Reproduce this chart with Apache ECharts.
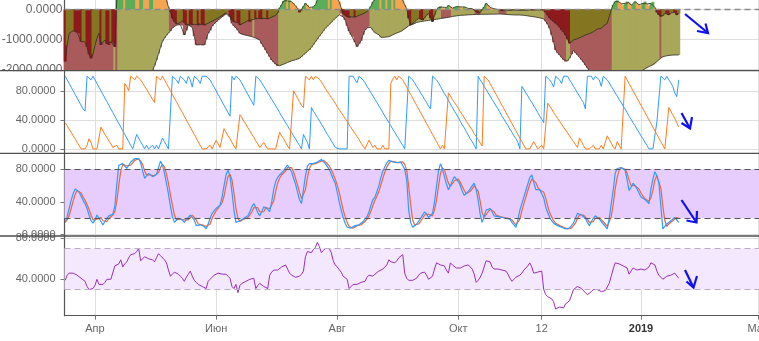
<!DOCTYPE html>
<html>
<head>
<meta charset="utf-8">
<script src="https://cdn.jsdelivr.net/npm/echarts@6/dist/echarts.min.js"></script>
<style>
  html, body { margin: 0; padding: 0; background: #fff; }
  #chart { width: 759px; height: 341px; }
</style>
</head>
<body>
<div id="chart"></div>
<script>
// Daily series start on this date, one value per day
const startDate = '2018-03-17';

// Month ticks on the shared date axis and their labels
const monthTicks = ['2018-04-01', '2018-06-01', '2018-08-01', '2018-10-01', '2018-11-12', '2019-01-01', '2019-03-01'];
const monthLabels = ['Апр', 'Июн', 'Авг', 'Окт', '12', '2019', 'Мар'];

// Panel 1: bull power (upper histogram) and bear power (lower histogram)
const bullPower = [
  -1745,-1200,-800,-740,-713,-740,-767,-800,-1080,-1080,
  -1080,-1250,-1500,-1633,-1490,-1200,-967,-800,-1190,-1100,
  -1023,-1150,-1190,-1080,-1120,-1250,350,480,600,700,
  680,720,780,850,900,960,920,880,930,980,
  950,900,860,900,940,880,800,720,640,560,
  480,300,80,-80,-300,-413,-480,-480,-450,-380,
  -450,-523,-480,-500,-520,-500,-480,-520,-460,-500,
  -540,-500,-470,-430,-400,-360,-330,-290,-250,-200,
  -160,-120,-100,-200,-350,-420,-380,-450,-520,-480,
  -450,-420,-380,-420,-350,-300,-320,-280,-300,-330,
  -300,-280,-320,-300,-260,-240,-200,-120,50,150,
  280,320,280,300,250,200,120,30,-100,-60,
  100,200,150,60,30,80,150,300,400,450,
  500,520,560,540,580,560,500,400,250,50,
  -150,-200,-250,-280,-250,-230,-260,-240,-200,-180,
  -150,-133,-80,-20,100,250,330,380,420,400,
  450,480,460,500,520,480,500,460,420,380,
  300,150,20,-300,-523,-480,-413,-350,-300,-330,
  -357,-300,-200,-133,-300,-413,-200,-30,60,100,
  70,30,60,130,100,40,60,90,100,80,
  60,80,50,30,40,20,-20,-80,-133,-100,
  -40,80,200,150,60,30,20,10,-10,-30,
  -50,-40,-30,-20,-40,-30,-20,-35,-30,-40,
  -30,-25,-35,-30,-20,-30,-25,-30,-20,-25,
  -20,-23,-100,-200,-300,-360,-413,-470,-523,-600,
  -690,-760,-857,-1000,-1135,-1080,-1023,-1000,-980,-967,
  -920,-880,-857,-830,-810,-800,-750,-690,-660,-640,
  -633,-560,-500,-467,-245,-20,150,260,300,250,
  180,130,200,260,220,130,180,260,200,150,
  130,200,260,180,120,200,250,60,-100,-190,
  -245,-220,-133,-150,-190,-120,-80,-100,-190,-133
];
const bearPower = [
  -2250,-2280,-2300,-2320,-2300,-2330,-2350,-2360,-2380,-2400,
  -2420,-2450,-2480,-2460,-2440,-2430,-2450,-2470,-2490,-2500,
  -2520,-2540,-2560,-2580,-2600,-2620,-2640,-2600,-2560,-2520,
  -2480,-2450,-2420,-2400,-2380,-2350,-2320,-2300,-2270,-2240,
  -2200,-2170,-2140,-2100,-2050,-1880,-1690,-1480,-1270,-1067,
  -960,-870,-790,-720,-620,-560,-530,-520,-510,-540,
  -857,-700,-523,-560,-600,-900,-1190,-1190,-1180,-1190,
  -1190,-1000,-800,-700,-560,-480,-420,-360,-300,-250,
  -200,-150,-113,-250,-467,-550,-620,-700,-800,-830,
  -850,-860,-880,-890,-913,-930,-960,-990,-1023,-1150,
  -1250,-1357,-1470,-1580,-1690,-1760,-1830,-1890,-1880,-1857,
  -1830,-1800,-1770,-1747,-1720,-1700,-1680,-1660,-1633,-1580,
  -1520,-1460,-1400,-1357,-1270,-1180,-1080,-990,-900,-810,
  -720,-633,-570,-500,-440,-370,-300,-240,-180,-133,
  -250,-357,-550,-730,-850,-913,-1100,-1245,-1150,-1050,
  -850,-690,-620,-580,-600,-700,-780,-800,-850,-933,
  -940,-930,-920,-913,-880,-850,-820,-790,-760,-740,
  -700,-650,-600,-550,-523,-500,-470,-440,-420,-410,
  -400,-390,-380,-370,-360,-350,-340,-333,-320,-310,
  -300,-290,-280,-270,-250,-240,-230,-220,-210,-200,
  -200,-195,-190,-185,-180,-178,-175,-172,-170,-168,
  -166,-165,-164,-163,-162,-161,-160,-160,-158,-155,
  -160,-165,-170,-175,-180,-185,-188,-190,-190,-190,
  -195,-200,-210,-220,-230,-240,-250,-260,-270,-285,
  -300,-320,-400,-500,-633,-850,-1100,-1357,-1450,-1523,
  -1600,-1680,-1745,-1720,-1633,-1500,-1357,-1450,-1520,-1580,
  -1680,-1760,-1857,-1950,-2050,-2120,-2180,-2230,-2280,-2320,
  -2360,-2400,-2430,-2460,-2480,-2500,-2510,-2520,-2510,-2500,
  -2480,-2460,-2440,-2410,-2380,-2340,-2300,-2250,-2200,-2130,
  -2070,-2023,-1980,-1940,-1900,-1880,-1857,-1800,-1740,-1680,
  -1620,-1580,-1560,-1550,-1540,-1530,-1523,-1523,-1520,-1523
];
// Bear-power regime as runs of [flag, days]: 1 = recovering, 0 = weakening
const bearRegime = [
  [0,25],[1,1],[0,1],[1,26],[0,42],[1,1],[0,12],[1,31],[0,15],[1,36],[0,5],
  [1,12],[0,3],[1,9],[0,4],[1,19],[0,11],[1,2],[0,21],[1,24],[0,1],[1,9]
];

// Panel 2: Aroon up / down
const aroonUp = [
  100,95,90,85,80,75,70,65,60,55,
  52,100,100,95,100,95,90,85,80,75,
  70,65,60,55,50,45,40,35,30,25,
  20,15,10,5,0,0,20,15,10,5,
  0,5,0,0,5,0,5,0,0,15,
  10,5,0,0,100,100,95,90,100,100,
  95,90,100,95,85,100,100,95,90,100,
  100,100,100,95,90,85,80,75,70,65,
  60,55,50,45,100,95,100,100,95,90,
  85,80,75,70,65,60,100,100,95,91,
  86,82,77,73,68,64,59,55,50,45,
  41,36,32,27,23,18,14,9,5,0,
  20,14,9,0,57,52,48,43,39,34,
  30,25,20,16,11,7,2,0,0,0,
  0,0,0,100,100,100,95,91,100,100,
  95,91,86,82,77,73,68,64,59,55,
  50,45,41,36,32,27,23,18,14,9,
  5,0,0,100,100,95,91,86,82,77,
  73,68,64,59,55,100,100,95,91,86,
  81,76,72,67,62,57,52,48,43,38,
  33,29,24,19,14,10,5,0,100,95,
  91,86,82,77,73,68,64,59,55,50,
  45,41,36,32,27,23,18,14,9,0,
  86,82,77,73,68,64,59,55,50,45,
  41,36,100,100,95,91,85,100,100,95,
  90,100,100,100,95,91,86,82,77,73,
  68,64,55,100,100,100,95,100,100,95,
  86,100,100,95,91,86,82,77,73,68,
  64,59,55,50,45,41,36,32,27,23,
  18,14,9,5,0,0,0,0,37,37,
  100,100,95,100,95,91,86,77,72,95
];
const aroonDown = [
  36,32,27,23,18,14,9,5,0,0,
  0,5,14,9,0,0,0,0,30,25,
  20,16,11,7,2,0,5,0,0,0,
  90,86,80,100,100,95,100,100,95,91,
  86,82,77,73,68,64,100,100,95,100,
  95,90,85,80,75,70,65,60,55,50,
  45,40,35,30,25,20,15,10,5,0,
  0,0,0,5,0,0,12,7,2,0,
  28,23,18,14,9,4,0,0,47,43,
  38,34,29,25,20,16,11,7,2,0,
  9,4,0,0,0,0,0,0,23,18,
  14,9,4,0,0,80,75,70,65,60,
  57,100,100,95,100,95,100,100,96,92,
  88,83,79,75,71,67,63,58,54,50,
  46,42,38,33,29,25,21,17,13,8,
  4,0,0,12,7,2,5,0,0,0,
  5,0,0,0,90,96,100,95,100,100,
  95,90,85,80,75,70,65,60,55,50,
  45,40,35,30,25,20,15,10,5,0,
  5,0,0,77,73,68,64,60,56,51,
  47,43,38,34,30,26,21,17,13,8,
  4,100,100,95,90,85,80,75,70,65,
  60,55,50,45,40,35,30,25,20,15,
  10,5,0,0,0,0,10,5,0,0,
  5,0,0,63,59,55,50,46,42,38,
  34,30,26,22,18,14,10,6,2,15,
  10,5,0,0,0,0,5,0,0,0,
  5,0,0,18,13,8,3,0,10,5,
  0,0,100,95,90,85,80,75,70,65,
  60,55,50,45,40,35,30,25,20,15,
  10,5,0,0,57,52,47,42,36,30
];

// Panel 3: stochastic %K and %D
const stochK = [
  15,22,32,42,50,56,55,52,47,42,
  38,32,24,17,14,18,24,22,16,12,
  16,20,23,24,25,35,62,85,87,87,
  84,81,85,89,91,93,94,93,88,78,
  69,72,75,73,71,72,74,82,90,85,
  75,63,50,35,22,15,17,20,21,18,
  15,18,21,24,26,18,11,11,12,12,
  10,7,13,20,26,29,32,34,36,46,
  60,73,79,71,52,30,15,16,17,19,
  20,21,23,28,34,38,33,27,23,28,
  34,36,31,28,40,55,65,70,73,75,
  78,82,85,84,77,69,62,52,43,38,
  55,72,84,87,86,87,87,89,91,92,
  90,87,85,80,74,68,63,52,40,30,
  21,14,9,7,8,10,11,12,12,13,
  16,19,22,28,36,43,46,53,60,70,
  78,83,88,91,92,89,87,88,89,89,
  89,80,67,30,15,9,11,13,15,20,
  24,28,25,21,23,26,40,59,78,87,
  80,71,62,55,60,66,71,68,65,60,
  53,48,50,53,56,60,63,55,42,25,
  15,22,30,31,32,28,23,22,22,21,
  21,20,20,19,19,15,12,9,18,30,
  38,46,54,62,70,73,64,55,54,55,
  56,45,34,27,21,17,14,12,11,10,
  9,7,7,8,8,9,14,20,26,25,
  24,23,20,15,11,16,20,23,21,19,
  17,13,10,7,20,38,54,75,81,82,
  82,80,79,67,54,58,63,60,56,51,
  46,44,43,42,38,56,68,77,72,63,
  35,7,10,13,15,17,19,21,23,15
];
const stochD = [
  15,18,23,32,41,49,54,54,51,46,
  42,37,31,24,18,16,19,21,21,17,
  15,16,20,22,24,28,41,61,78,86,
  86,84,83,85,88,91,93,93,92,86,
  78,73,72,73,73,72,72,76,82,86,
  83,74,63,49,36,24,18,17,19,20,
  18,17,18,21,24,23,18,13,11,12,
  11,10,10,13,20,25,29,32,34,39,
  47,60,71,74,67,51,32,20,16,17,
  19,20,21,24,28,33,35,33,28,26,
  28,33,34,32,33,41,53,63,69,73,
  75,78,82,84,82,77,69,61,52,44,
  45,55,70,81,86,87,87,88,89,91,
  91,90,87,84,80,74,68,61,52,41,
  30,22,15,10,8,8,10,11,12,12,
  14,16,19,23,29,36,42,47,53,61,
  69,77,83,87,90,91,89,88,88,89,
  89,86,79,59,37,18,12,11,13,16,
  20,24,26,25,23,23,30,42,59,75,
  82,79,71,63,59,60,66,68,68,64,
  59,54,50,50,53,56,60,59,53,41,
  27,21,22,28,31,30,28,24,22,22,
  21,21,20,20,19,18,15,12,13,19,
  29,38,46,54,62,68,69,64,58,55,
  55,52,45,35,27,22,17,14,12,11,
  10,9,8,7,8,8,10,14,20,24,
  25,24,22,19,15,14,16,20,21,21,
  19,16,13,10,12,22,37,56,70,79,
  82,81,80,75,67,60,58,60,60,56,
  51,47,44,43,41,45,54,67,72,71,
  57,35,17,10,13,15,17,19,21,20
];

// Panel 4: RSI
const rsi = [
  39,44,46,45,46,47,44,43,41,40,
  38,33,30,30,31,34,40,35,35,35,
  37,40,39,40,41,53,54,55,59,52,
  55,57,61,64,63,65,67,70,58,60,
  62,61,60,61,59,57,61,65,63,62,
  59,56,49,43,45,47,46,45,43,41,
  38,42,45,48,43,39,37,35,34,33,
  32,31,38,40,42,44,45,46,46,45,
  46,45,43,41,33,31,35,27,34,36,
  37,38,39,40,41,41,31,34,36,35,
  33,32,31,44,47,49,49,49,50,52,
  53,54,50,46,44,43,42,41,43,45,
  48,62,67,66,66,69,71,76,72,66,
  68,70,70,70,66,58,54,52,51,47,
  43,42,40,31,33,35,36,35,36,37,
  37,38,42,44,44,43,45,46,48,49,
  50,51,54,59,57,56,56,58,61,62,
  64,46,41,39,39,39,40,41,44,46,
  46,47,44,40,41,43,50,56,55,54,
  53,53,49,46,56,54,53,51,50,51,
  52,53,54,54,52,50,45,37,39,42,
  46,52,58,58,57,52,50,50,50,50,
  49,48,48,45,41,38,40,42,43,44,
  46,49,51,53,56,52,46,47,47,48,
  48,30,25,23,22,21,18,11,12,13,
  12,12,16,17,19,20,30,31,33,32,
  31,30,27,25,26,28,30,30,30,29,
  28,28,29,30,36,43,50,56,55,55,
  54,53,53,51,45,48,51,50,49,50,
  50,51,49,48,52,56,55,54,48,44,
  42,40,41,43,44,44,45,46,45,41
];

// Y-axis tick values per panel
const powerTicks = [-2000, -1000, 0];
const aroonTicks = [0, 40, 80];
const stochTicks = [0, 40, 80];
const rsiTicks = [40, 80];

// ---------------------------------------------------------------
const DAY = 86400000;
const t0 = new Date(startDate + 'T00:00:00Z').getTime();
const dates = bullPower.map((_, i) => t0 + i * DAY);
const tickTimes = monthTicks.map(s => new Date(s + 'T00:00:00Z').getTime());
const xMin = t0 - 0.35 * DAY;
const xMax = t0 + 349.43 * DAY;

const regime = [];
bearRegime.forEach(([flag, n]) => { for (let k = 0; k < n; k++) regime.push(flag); });

const C = {
  rose: '#a95b5c', olive: '#a9a75a',
  darkRed: '#8d1b1c', darkOlive: '#857622',
  green: '#5aae5a', orange: '#f5a452',
  blue: '#2f9aff', aroonOrange: '#ff7a1c',
  stochOrange: '#f0643a', purple: '#9a2fb8',
  axis: '#555', label: '#666', grid: '#dedede'
};

const pair = arr => arr.map((v, i) => [dates[i], v]);

const bearBars = bearPower.map((v, i) => ({
  value: [dates[i], v],
  itemStyle: { color: regime[i] ? C.olive : C.rose }
}));
const bullBars = bullPower.map((v, i) => {
  const falling = i === 0 || v < bullPower[i - 1];
  const color = v >= 0 ? (falling ? C.orange : C.green) : (falling ? C.darkRed : C.darkOlive);
  return { value: [dates[i], v], itemStyle: { color } };
});

function monthFormatter(val) {
  const k = tickTimes.findIndex(t => Math.abs(t - val) < DAY / 2);
  if (k < 0) return '';
  return monthLabels[k] === '2019' ? '{y|2019}' : monthLabels[k];
}

// The date axis is a numeric axis over timestamps, ticked at month starts
function makeX(idx, show) {
  return {
    type: 'value', gridIndex: idx, min: xMin, max: xMax,
    axisLine: { show: show, onZero: false, lineStyle: { color: C.axis, width: 1.2 } },
    axisTick: { show: show, customValues: tickTimes, length: 4, lineStyle: { color: '#777' } },
    axisLabel: {
      show: show, customValues: tickTimes, formatter: monthFormatter,
      color: C.label, fontSize: 11, margin: 8,
      rich: { y: { fontWeight: 'bold', color: '#333', fontSize: 11 } }
    },
    splitLine: { show: true, lineStyle: { color: C.grid, width: 1 } }
  };
}

function makeY(idx, min, max, ticks, opts) {
  return {
    type: 'value', gridIndex: idx, min: min, max: max,
    axisLine: { show: true, lineStyle: { color: C.axis, width: 1.2 } },
    axisTick: { show: opts.tick, customValues: ticks, length: 4, lineStyle: { color: '#777' } },
    axisLabel: {
      customValues: ticks, formatter: v => v.toFixed(4),
      color: C.label, fontSize: opts.fontSize, margin: opts.margin
    },
    splitLine: { show: true, lineStyle: { color: C.grid, width: 1 } }
  };
}

const noSymbol = { symbol: 'none', showSymbol: false };

const option = {
  animation: false,
  backgroundColor: '#fff',
  textStyle: { fontFamily: 'Liberation Sans, Arial, sans-serif' },
  grid: [
    { left: 64.5, right: 0, top: 0, height: 70.7, outerBoundsMode: 'none' },
    { left: 64.5, right: 0, top: 70.7, height: 82.6, outerBoundsMode: 'none' },
    { left: 64.5, right: 0, top: 153.3, height: 82.7, outerBoundsMode: 'none' },
    { left: 64.5, right: 0, top: 236, height: 79.7, outerBoundsMode: 'none' }
  ],
  xAxis: [makeX(0, false), makeX(1, false), makeX(2, false), makeX(3, true)],
  yAxis: [
    makeY(0, -2047, 310, powerTicks, { tick: false, fontSize: 12, margin: 2 }),
    makeY(1, -6, 107.6, aroonTicks, { tick: true, fontSize: 11, margin: 9 }),
    makeY(2, -1.7, 99.6, stochTicks, { tick: true, fontSize: 11, margin: 9 }),
    makeY(3, 4.5, 82.2, rsiTicks, { tick: true, fontSize: 11, margin: 9 })
  ],
  series: [
    // Panel 1: power histograms with their outlines
    { name: 'Bear power', type: 'bar', xAxisIndex: 0, yAxisIndex: 0,
      data: bearBars, barWidth: 3, barGap: '-100%' },
    { name: 'Bull power', type: 'bar', xAxisIndex: 0, yAxisIndex: 0,
      data: bullBars, barWidth: 3, barGap: '-100%' },
    { name: 'Bear line', type: 'line', xAxisIndex: 0, yAxisIndex: 0, ...noSymbol,
      data: pair(bearPower), lineStyle: { color: '#2e2e22', width: 0.8 },
      markLine: { silent: true, symbol: 'none', label: { show: false },
        lineStyle: { color: '#8a8a8a', type: [6, 4], width: 1.3 },
        data: [{ yAxis: 0 }] } },
    { name: 'Bull line', type: 'line', xAxisIndex: 0, yAxisIndex: 0, ...noSymbol,
      data: pair(bullPower), lineStyle: { color: '#2e2e22', width: 0.8 } },

    // Panel 2: Aroon
    { name: 'Aroon up', type: 'line', xAxisIndex: 1, yAxisIndex: 1, ...noSymbol,
      data: pair(aroonUp), lineStyle: { color: C.blue, width: 1 } },
    { name: 'Aroon down', type: 'line', xAxisIndex: 1, yAxisIndex: 1, ...noSymbol,
      data: pair(aroonDown), lineStyle: { color: C.aroonOrange, width: 1 } },

    // Panel 3: stochastic band, then %D and %K
    { name: 'Stoch band', type: 'line', xAxisIndex: 2, yAxisIndex: 2, ...noSymbol, silent: true,
      data: pair(stochK), lineStyle: { width: 0, opacity: 0 },
      markArea: { silent: true, itemStyle: { color: '#e7cdfe' },
        data: [[{ yAxis: 20 }, { yAxis: 80 }]] },
      markLine: { silent: true, symbol: 'none', label: { show: false },
        lineStyle: { color: '#555', type: [6, 4], width: 1.2 },
        data: [{ yAxis: 20 }, { yAxis: 80 }] } },
    { name: '%D', type: 'line', xAxisIndex: 2, yAxisIndex: 2, ...noSymbol,
      data: pair(stochD), lineStyle: { color: C.stochOrange, width: 1.2 } },
    { name: '%K', type: 'line', xAxisIndex: 2, yAxisIndex: 2, ...noSymbol,
      data: pair(stochK), lineStyle: { color: C.blue, width: 1.2 } },

    // Panel 4: RSI with its 30–70 band
    { name: 'RSI band', type: 'line', xAxisIndex: 3, yAxisIndex: 3, ...noSymbol, silent: true,
      data: pair(rsi), lineStyle: { width: 0, opacity: 0 },
      markArea: { silent: true, itemStyle: { color: '#f4e8ff' },
        data: [[{ yAxis: 30 }, { yAxis: 70 }]] },
      markLine: { silent: true, symbol: 'none', label: { show: false },
        lineStyle: { color: '#b9adc2', type: [6, 4], width: 1 },
        data: [{ yAxis: 30 }, { yAxis: 70 }] } },
    { name: 'RSI', type: 'line', xAxisIndex: 3, yAxisIndex: 3, ...noSymbol,
      data: pair(rsi), lineStyle: { color: C.purple, width: 1 } }
  ],
  graphic: [
    // clip the lowest label of the top panel at its boundary
    { type: 'rect', shape: { x: 0, y: 71.3, width: 63.5, height: 6 }, style: { fill: '#fff' }, z: 99 },
    // panel separators across the full width
    { type: 'line', shape: { x1: 0, y1: 70.7, x2: 759, y2: 70.7 }, style: { stroke: '#4d4d4d', lineWidth: 1.3 }, z: 100 },
    { type: 'line', shape: { x1: 0, y1: 153.3, x2: 759, y2: 153.3 }, style: { stroke: '#4d4d4d', lineWidth: 1.3 }, z: 100 },
    { type: 'line', shape: { x1: 0, y1: 236, x2: 759, y2: 236 }, style: { stroke: '#4d4d4d', lineWidth: 1.3 }, z: 100 },
    // trend arrows
    { type: 'polyline', shape: { points: [[685, 14], [708, 33]] }, style: { stroke: '#1010ee', lineWidth: 2.2, fill: null }, z: 100 },
    { type: 'polyline', shape: { points: [[697, 31], [708, 33], [705.5, 23.5]] }, style: { stroke: '#1010ee', lineWidth: 2.2, fill: null }, z: 100 },
    { type: 'polyline', shape: { points: [[681.5, 113], [690, 128.5]] }, style: { stroke: '#1010ee', lineWidth: 2.2, fill: null }, z: 100 },
    { type: 'polyline', shape: { points: [[681.5, 123], [690, 128.5], [692, 117]] }, style: { stroke: '#1010ee', lineWidth: 2.2, fill: null }, z: 100 },
    { type: 'polyline', shape: { points: [[681.5, 200], [696.5, 222.5]] }, style: { stroke: '#1010ee', lineWidth: 2.2, fill: null }, z: 100 },
    { type: 'polyline', shape: { points: [[686.5, 220.5], [696.5, 222.5], [697, 211]] }, style: { stroke: '#1010ee', lineWidth: 2.2, fill: null }, z: 100 },
    { type: 'polyline', shape: { points: [[685, 270], [693.5, 287.5]] }, style: { stroke: '#1010ee', lineWidth: 2.2, fill: null }, z: 100 },
    { type: 'polyline', shape: { points: [[686.5, 281.5], [693.5, 287.5], [697, 276]] }, style: { stroke: '#1010ee', lineWidth: 2.2, fill: null }, z: 100 }
  ]
};

const chart = echarts.init(document.getElementById('chart'), null, { renderer: 'canvas' });
chart.setOption(option);
</script>
</body>
</html>
